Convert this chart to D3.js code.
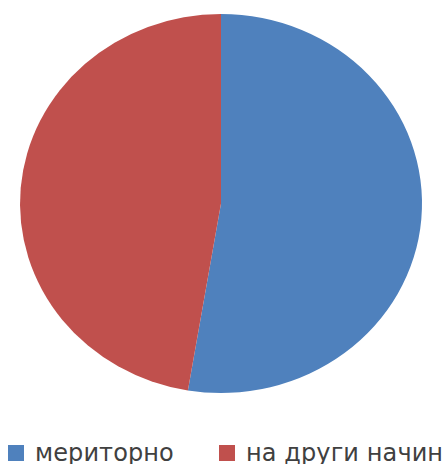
<!DOCTYPE html>
<html>
<head>
<meta charset="utf-8">
<script src="https://cdn.jsdelivr.net/npm/d3@7"></script>
<style>
  html, body { margin: 0; padding: 0; background: #fff; }
  svg { display: block; }
</style>
</head>
<body>
<svg id="chart" width="444" height="464"></svg>
<script>
// Pie data
const categories = ["мериторно", "на други начин"];
const values = [10, 9];
const colors = ["#4F81BD", "#C0504D"];

const svg = d3.select("#chart");

// The pie is drawn as a unit circle stretched into an ellipse
const cx = 221, cy = 203.5, rx = 201, ry = 189.5, r = 100;

const pie = d3.pie().sort(null).value(d => d.value);
const arc = d3.arc().innerRadius(0).outerRadius(r);
const data = categories.map((c, i) => ({ name: c, value: values[i], color: colors[i] }));

svg.append("g")
  .attr("transform", `translate(${cx},${cy}) scale(${rx / r},${ry / r})`)
  .selectAll("path")
  .data(pie(data))
  .join("path")
  .attr("d", arc)
  .attr("fill", d => d.data.color);

// Legend
const legendX = [8, 219];
const legend = svg.append("g");
data.forEach((d, i) => {
  const g = legend.append("g").attr("transform", `translate(${legendX[i]},445)`);
  g.append("rect").attr("width", 16).attr("height", 16).attr("fill", d.color);
  g.append("text")
    .attr("x", 27).attr("y", 16)
    .attr("font-family", "DejaVu Sans")
    .attr("font-size", 24)
    .attr("letter-spacing", 0.1)
    .attr("fill", "#404040")
    .text(d.name);
});
</script>
</body>
</html>
